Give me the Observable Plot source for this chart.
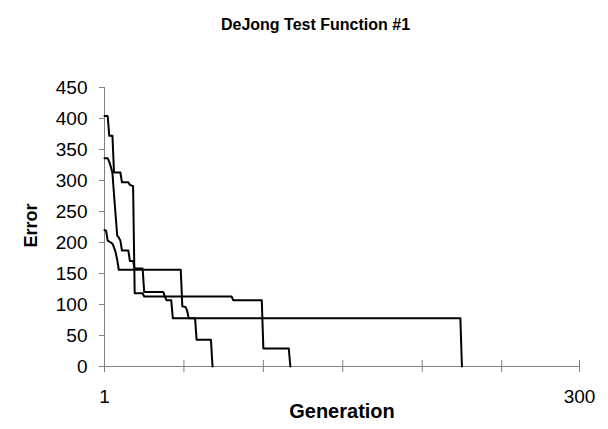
<!DOCTYPE html>
<html>
<head>
<meta charset="utf-8">
<script src="https://cdn.jsdelivr.net/npm/d3@7"></script>
<script src="https://cdn.jsdelivr.net/npm/@observablehq/plot@0.6"></script>
<style>
  html, body { margin: 0; padding: 0; background: #fff; }
  #chart svg { display: block; }
</style>
</head>
<body>
<div id="chart"></div>
<script>
const titleText = "DeJong Test Function #1";
const xTitle = "Generation";
const yTitle = "Error";

// Series 1
const s1Gen = [1, 3, 4, 6, 7, 11, 12, 16, 17, 19, 20, 25, 26, 81, 82, 100, 101, 117, 118];
const s1Err = [404, 404, 372, 372, 313, 313, 297, 297, 293, 291, 118, 118, 113, 113, 107, 107, 29, 29, 0];
// Series 2
const s2Gen = [1, 3, 4, 5, 6, 7, 8, 9, 10, 11, 12, 16, 17, 19, 20, 25, 26, 38, 39, 40, 43, 44, 58, 59, 68, 69];
const s2Err = [336, 336, 330, 322, 312, 277, 244, 211, 208, 203, 187, 187, 170, 170, 158, 158, 120, 120, 113, 107, 107, 78, 78, 43, 43, 0];
// Series 3
const s3Gen = [1, 2, 3, 5, 6, 7, 8, 9, 10, 49, 50, 52, 53, 54, 225, 226];
const s3Err = [220, 219, 203, 200, 198, 192, 184, 172, 156, 156, 97, 96, 90, 78, 78, 0];

const yTicks = [0, 50, 100, 150, 200, 250, 300, 350, 400, 450];
const xTickPos = [1, 51, 101, 151, 201, 251, 300];
const xLabelPos = [1, 300];
const xLabels = ["1", "300"];

const rows = [];
[[s1Gen, s1Err, "s1"], [s2Gen, s2Err, "s2"], [s3Gen, s3Err, "s3"]].forEach(([g, e, name]) => {
  g.forEach((v, i) => rows.push({gen: v, err: e[i], series: name}));
});

const font = "'Liberation Sans', Arial, Helvetica, sans-serif";
const axisGray = "#808080";

const chart = Plot.plot({
  width: 608,
  height: 429,
  marginLeft: 104,
  marginRight: 29,
  marginTop: 87,
  marginBottom: 63,
  style: {fontFamily: font, fontSize: "19px", color: "black", background: "white"},
  x: {domain: [1, 300], axis: null},
  y: {domain: [0, 450], axis: null},
  marks: [
    // axis lines
    Plot.ruleX([1], {stroke: axisGray, strokeWidth: 1}),
    Plot.ruleY([0], {stroke: axisGray, strokeWidth: 1}),
    // y ticks
    Plot.ruleY(yTicks, {y: d => d, x1: 1, x2: 1, insetLeft: -5, stroke: axisGray}),
    Plot.text(yTicks, {x: 1, y: d => d, text: d => String(d), dx: -17, textAnchor: "end", fill: "black", fontSize: 19}),
    // x ticks crossing the axis
    Plot.ruleX(xTickPos, {x: d => d, y1: 0, y2: 0, insetTop: -6, insetBottom: -6, stroke: axisGray}),
    Plot.text(xLabelPos, {x: d => d, y: 0, text: (d, i) => xLabels[i], dy: 30, fill: "black", fontSize: 19}),
    // data lines
    Plot.line(rows, {x: "gen", y: "err", z: "series", stroke: "black", strokeWidth: 2}),
    // titles
    Plot.text([titleText], {frameAnchor: "top", dy: 18 - 87, dx: 315 - 341.5, fontWeight: "bold", fontSize: 16, fill: "black", textAnchor: "middle"}),
    Plot.text([xTitle], {frameAnchor: "bottom", dy: 51, fontWeight: "bold", fontSize: 20, fill: "black", textAnchor: "middle", letterSpacing: "0.6px"}),
    Plot.text([yTitle], {frameAnchor: "left", dx: 31 - 104, dy: -1.5, rotate: -90, fontWeight: "bold", fontSize: 18, fill: "black", textAnchor: "middle"})
  ]
});

document.getElementById("chart").appendChild(chart);
</script>
</body>
</html>
